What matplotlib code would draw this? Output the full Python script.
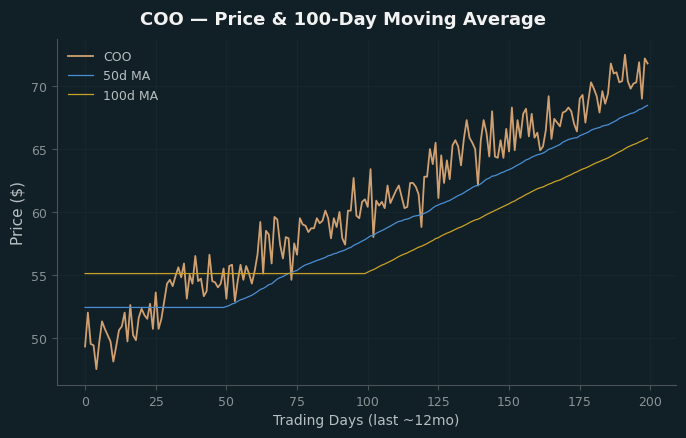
import numpy as np
import pandas as pd
import matplotlib
matplotlib.use("Agg")
import matplotlib.pyplot as plt

days = np.arange(200)
price = [
    49.3, 52.0, 49.5, 49.4, 47.5, 49.6, 51.3, 50.7, 50.2, 49.7,
    48.1, 49.3, 50.6, 50.9, 52.0, 49.7, 52.6, 50.2, 49.8, 51.6,
    52.3, 51.8, 51.5, 52.7, 50.7, 53.6, 50.7, 51.5, 52.9, 54.3,
    54.6, 54.1, 54.9, 55.6, 54.8, 55.9, 53.1, 55.0, 54.3, 56.5,
    54.5, 54.7, 53.3, 53.7, 56.6, 54.5, 54.4, 54.0, 54.3, 55.5,
    53.1, 55.7, 55.8, 52.9, 54.5, 55.8, 54.6, 55.7, 55.1, 54.3,
    55.3, 56.6, 59.2, 55.1, 58.5, 58.2, 55.9, 59.6, 59.4, 57.4,
    56.3, 58.0, 57.9, 54.6, 57.5, 56.6, 59.5, 59.0, 58.9, 58.4,
    58.7, 58.7, 59.5, 59.1, 59.3, 60.1, 59.5, 57.9, 59.5, 58.8,
    60.0, 57.9, 57.4, 60.1, 60.1, 62.7, 59.7, 59.5, 60.8, 61.0,
    60.4, 63.4, 58.0, 60.9, 60.5, 60.8, 60.3, 62.1, 60.7, 61.2,
    61.7, 62.1, 61.2, 60.3, 60.4, 62.3, 62.3, 62.0, 61.4, 58.8,
    62.8, 62.8, 65.0, 63.8, 65.5, 61.1, 64.5, 62.3, 64.1, 62.6,
    65.3, 65.7, 65.2, 63.7, 65.8, 67.3, 65.9, 65.5, 65.0, 62.1,
    65.7, 67.3, 66.3, 64.4, 68.0, 64.4, 64.3, 65.7, 64.3, 66.6,
    64.8, 68.3, 64.9, 67.3, 65.9, 67.8, 68.2, 66.0, 67.8, 65.9,
    66.3, 64.9, 65.2, 66.5, 69.2, 65.8, 67.4, 67.1, 66.8, 67.9,
    68.0, 68.3, 68.0, 67.0, 66.4, 69.0, 69.3, 67.1, 68.8, 70.3,
    69.8, 69.2, 67.9, 69.6, 68.6, 69.4, 71.8, 71.0, 71.1, 70.3,
    70.4, 72.5, 70.4, 69.8, 70.2, 70.3, 71.9, 69.0, 72.2, 71.8,
]
s = pd.Series(price)
ma50 = s.rolling(50).mean().bfill()
ma100 = s.rolling(100).mean().bfill()

BG = "#111f26"
fig = plt.figure(figsize=(6.86, 4.39), dpi=100, facecolor=BG)
ax = fig.add_axes([0.083, 0.121, 0.902, 0.788], facecolor=BG)

ax.plot(days, price, color="#d0a070", lw=1.3, label="COO")
ax.plot(days, ma50, color="#4a8fd4", lw=0.9, label="50d MA")
ax.plot(days, ma100, color="#c9a227", lw=0.9, label="100d MA")

ax.set_xticks([0, 25, 50, 75, 100, 125, 150, 175, 200])
ax.set_yticks([50, 55, 60, 65, 70])
ax.grid(True, color="#19282f", lw=0.6)
for sp in ["top", "right"]:
    ax.spines[sp].set_visible(False)
for sp in ["left", "bottom"]:
    ax.spines[sp].set_color("#4a5559")
ax.tick_params(colors="#4a5559", labelcolor="#8a9396", labelsize=9)
ax.set_xlabel("Trading Days (last ~12mo)", color="#b8bfc2", fontsize=10)
ax.set_ylabel("Price ($)", color="#b8bfc2", fontsize=11)
fig.suptitle("COO — Price & 100-Day Moving Average", color="#f2f2f2",
             fontsize=13, fontweight="bold", y=0.975)
leg = ax.legend(loc="upper left", frameon=False, fontsize=9)
for t in leg.get_texts():
    t.set_color("#b8bfc2")

fig.savefig("out.png", dpi=100, facecolor=BG)
